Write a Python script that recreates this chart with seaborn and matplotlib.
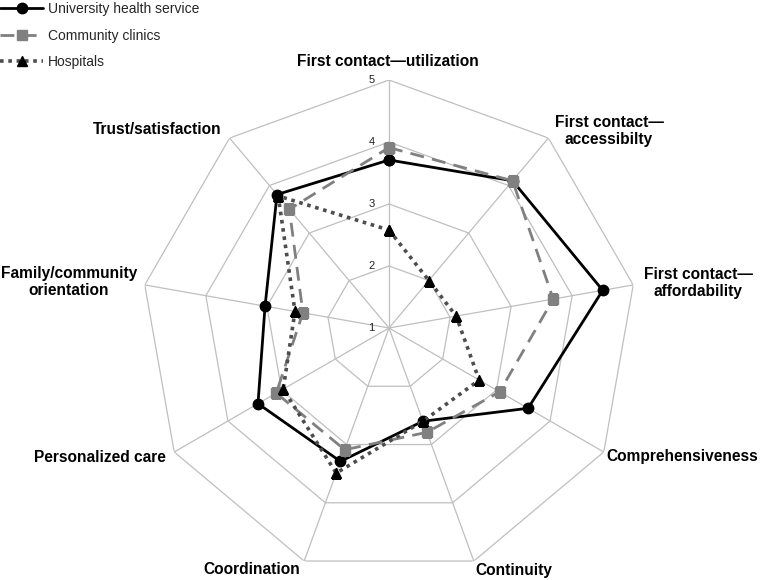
import numpy as np
import pandas as pd
import matplotlib
matplotlib.use("Agg")
import matplotlib.pyplot as plt
import seaborn as sns

# ── Data ──────────────────────────────────────────────────
categories = [
    "First contact—utilization",
    "First contact—\naccessibilty",
    "First contact—\naffordability",
    "Comprehensiveness",
    "Continuity",
    "Coordination",
    "Personalized care",
    "Family/community\norientation",
    "Trust/satisfaction",
]
series_names = ["University health service", "Community clinics", "Hospitals"]
uhs_values = [3.71, 4.10, 4.50, 3.59, 2.60, 3.29, 3.44, 3.03, 3.81]
clinic_values = [3.91, 4.10, 3.69, 3.06, 2.79, 3.09, 3.10, 2.41, 3.50]
hospital_values = [2.58, 2.00, 2.10, 2.68, 2.60, 3.49, 2.97, 2.54, 3.78]
ring_values = [1, 2, 3, 4, 5]

# label centres in figure pixels (764 x 580)
label_px = [(388, 61), (609, 131), (698, 283), (682, 457), (514, 570),
            (252, 570), (100, 457), (69, 282), (157, 130)]

# ── Style ─────────────────────────────────────────────────
sns.set_theme(style="white")
plt.rcParams["font.family"] = ["Liberation Sans", "DejaVu Sans"]

W, H = 764, 580
fig = plt.figure(figsize=(W / 100, H / 100), dpi=100)
cx, cy, R = 389, 328, 248
ax = fig.add_axes([(cx - R) / W, (H - cy - R) / H, 2 * R / W, 2 * R / H],
                  projection="polar")
ax.set_theta_zero_location("N")
ax.set_theta_direction(-1)
ax.set_facecolor("none")

n = len(categories)
angles = np.arange(n) * 2 * np.pi / n
closed = np.append(angles, angles[0])

# ── Grid (polygon rings + spokes) ─────────────────────────
grid_kw = dict(color="#bfbfbf", lw=0.9, zorder=0)
for r in ring_values[1:]:
    ax.plot(closed, [r] * len(closed), **grid_kw)
for a in angles:
    ax.plot([a, a], [ring_values[0], ring_values[-1]], **grid_kw)

# ── Series ────────────────────────────────────────────────
styles = [
    dict(color="black", linestyle="-", lw=2.0, marker="o", markersize=7.5,
         markerfacecolor="black", markeredgecolor="black"),
    dict(color="#808080", linestyle=(0, (5, 3)), lw=2.0, marker="s", markersize=6.5,
         markerfacecolor="#808080", markeredgecolor="#808080"),
    dict(color="#4d4d4d", linestyle=(0, (1, 1.3)), lw=2.6, marker="^", markersize=6.5,
         markerfacecolor="black", markeredgecolor="black"),
]
for name, vals, st in zip(series_names, [uhs_values, clinic_values, hospital_values], styles):
    df = pd.DataFrame({"theta": closed, "value": np.append(vals, vals[0])})
    sns.lineplot(data=df, x="theta", y="value", ax=ax, sort=False, estimator=None,
                 label=name, markeredgewidth=1, zorder=3, **st)

ax.set_ylim(1, 5)
ax.set_xticks([])
ax.set_yticks([])
ax.grid(False)
ax.spines["polar"].set_visible(False)
ax.set_xlabel("")
ax.set_ylabel("")

# ring value labels along the top spoke
for r in ring_values:
    ax.annotate(str(r), xy=(0, r), xytext=(-10.5, 0), textcoords="offset points",
                ha="right", va="center", fontsize=8, color="#222222")

# category labels
for text, (px, py) in zip(categories, label_px):
    fig.text(px / W, 1 - py / H, text, ha="center", va="center", fontsize=11.2,
             fontweight="bold", linespacing=1.15, color="black")

# ── Legend ────────────────────────────────────────────────
handles, labels = ax.get_legend_handles_labels()
if ax.get_legend() is not None:
    ax.get_legend().remove()
fig.legend(handles, labels, loc="upper left", bbox_to_anchor=(0, 0.996),
           frameon=False, fontsize=10, handlelength=3.1, handletextpad=0.35,
           labelspacing=0.9, borderpad=0, borderaxespad=0)

plt.savefig("out.png", dpi=100)
